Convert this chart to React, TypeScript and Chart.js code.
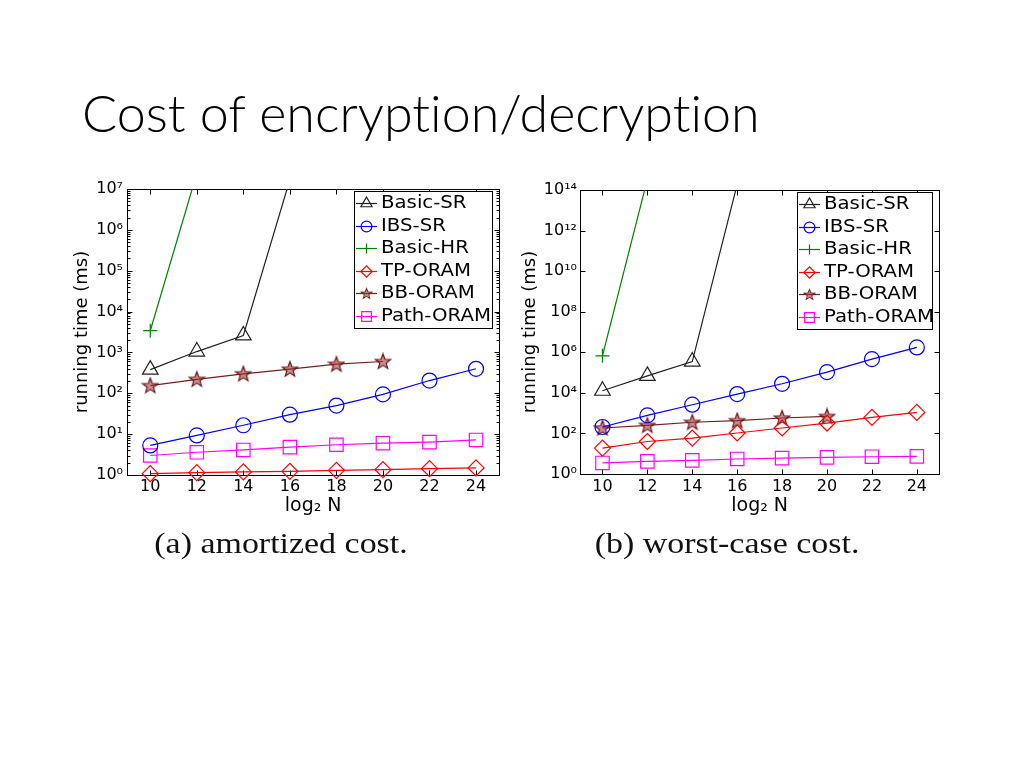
import React, { useEffect, useRef } from "react";
import { Chart, registerables } from "chart.js";
import { drawPoint } from "chart.js/helpers";

Chart.register(...registerables);

// ---------- data ----------
const seriesNames = ["Basic-SR", "IBS-SR", "Basic-HR", "TP-ORAM", "BB-ORAM", "Path-ORAM"];
const xSteps = [10, 12, 14, 16, 18, 20, 22, 24];
const xTicks = [10, 12, 14, 16, 18, 20, 22, 24];

// (a) amortized cost (ms)
const amortBasicSR = [380, 1050, 2600, 1.7e7];
const amortIBSSR = [5.3, 9.3, 16.5, 30, 50, 94, 205, 398];
const amortBasicHR = [3400, 2.4e7];
const amortTPORAM = [1.08, 1.14, 1.19, 1.23, 1.3, 1.35, 1.43, 1.49];
const amortBBORAM = [154, 220, 300, 390, 515, 600];
const amortPathORAM = [3.0, 3.6, 4.1, 4.8, 5.5, 6.0, 6.4, 7.2];

// (b) worst-case cost (ms)
const worstBasicSR = [1.27e4, 6.9e4, 3.5e5, 1.9e14];
const worstIBSSR = [208, 776, 2600, 8700, 28000, 1.05e5, 4.6e5, 1.74e6];
const worstBasicHR = [6.7e5, 3.4e14];
const worstTPORAM = [19, 40, 59, 105, 185, 325, 620, 1090];
const worstBBORAM = [185, 250, 355, 425, 575, 690];
const worstPathORAM = [3.5, 4.2, 4.7, 5.5, 6.1, 6.6, 7.1, 7.4];

const yTicksA = [1, 1e1, 1e2, 1e3, 1e4, 1e5, 1e6, 1e7];
const yTickLabelsA = ["10⁰", "10¹", "10²", "10³", "10⁴", "10⁵", "10⁶", "10⁷"];
const yTicksB = [1, 1e2, 1e4, 1e6, 1e8, 1e10, 1e12, 1e14];
const yTickLabelsB = ["10⁰", "10²", "10⁴", "10⁶", "10⁸", "10¹⁰", "10¹²", "10¹⁴"];

const pageTitle = "Cost of encryption/decryption";
const captionA = "(a) amortized cost.";
const captionB = "(b) worst-case cost.";
const xTitle = "log₂ N";
const yTitle = "running time (ms)";

// ---------- styles ----------
const seriesColors = ["#222222", "#0000ff", "#008000", "#ff0000", "#7a1c1c", "#ff00ff"];
const seriesPointStyles = ["triangle", "circle", "cross", "rectRot", "star5", "rect"];
const seriesRadii = [9, 7.5, 7, 8, 8, 9.5];

function makeStar(size: number, stroke: string, fill: string) {
  const c = document.createElement("canvas");
  c.width = size;
  c.height = size;
  const g = c.getContext("2d") as CanvasRenderingContext2D;
  const cx = size / 2, cy = size / 2 + 0.5, R = size / 2 - 1, r = R * 0.42;
  g.beginPath();
  for (let k = 0; k < 10; k++) {
    const rad = -Math.PI / 2 + (k * Math.PI) / 5;
    const rr = k % 2 === 0 ? R : r;
    const px = cx + rr * Math.cos(rad), py = cy + rr * Math.sin(rad);
    if (k === 0) g.moveTo(px, py); else g.lineTo(px, py);
  }
  g.closePath();
  g.fillStyle = fill;
  g.fill();
  g.strokeStyle = stroke;
  g.lineWidth = 1.2;
  g.stroke();
  return c;
}

const frameTicksPlugin = {
  id: "frameTicks",
  beforeDatasetsDraw(chart: any, _a: any, opts: any) {
    const { ctx, chartArea: a, scales } = chart;
    ctx.save();
    ctx.strokeStyle = "#000";
    ctx.lineWidth = 1;
    const L = Math.round(a.left) + 0.5, R = Math.round(a.right) + 0.5;
    const T = Math.round(a.top) + 0.5, B = Math.round(a.bottom) + 0.5;
    ctx.strokeRect(L, T, R - L, B - T);
    ctx.beginPath();
    (opts.yMajor || []).forEach((v: number) => {
      const y = Math.round(scales.y.getPixelForValue(v)) + 0.5;
      ctx.moveTo(L, y); ctx.lineTo(L + 5, y);
      ctx.moveTo(R, y); ctx.lineTo(R - 5, y);
    });
    (opts.yMinor || []).forEach((v: number) => {
      const y = Math.round(scales.y.getPixelForValue(v)) + 0.5;
      ctx.moveTo(L, y); ctx.lineTo(L + 3, y);
      ctx.moveTo(R, y); ctx.lineTo(R - 3, y);
    });
    (opts.xMajor || []).forEach((v: number) => {
      const x = Math.round(scales.x.getPixelForValue(v)) + 0.5;
      ctx.moveTo(x, B); ctx.lineTo(x, B - 5);
      ctx.moveTo(x, T); ctx.lineTo(x, T + 5);
    });
    ctx.stroke();
    ctx.restore();
  },
};

const boxLegendPlugin = {
  id: "boxLegend",
  afterDraw(chart: any, _a: any, opts: any) {
    const { ctx, chartArea: a } = chart;
    const ds = chart.data.datasets;
    const w = opts.width;
    const h = opts.rowH * ds.length + opts.padV * 2;
    const right = Math.round(a.right - opts.gapRight);
    const left = right - w;
    const top = Math.round(a.top + opts.gapTop);
    ctx.save();
    ctx.fillStyle = "#fff";
    ctx.fillRect(left, top, w, h);
    ctx.strokeStyle = "#000";
    ctx.lineWidth = 1;
    ctx.strokeRect(left + 0.5, top + 0.5, w, h);
    ds.forEach((d: any, i: number) => {
      const y = Math.round(top + opts.padV + opts.rowH * (i + 0.5)) + 0.5;
      ctx.strokeStyle = d.borderColor;
      ctx.lineWidth = 1.2;
      ctx.beginPath();
      ctx.moveTo(left + 2, y);
      ctx.lineTo(left + 23, y);
      ctx.stroke();
      const mx = left + 12.5;
      if (typeof d.pointStyle === "object") {
        const img = d.pointStyle;
        const s = opts.markerScale;
        ctx.drawImage(img, mx - (img.width * s) / 2, y - (img.height * s) / 2, img.width * s, img.height * s);
      } else {
        ctx.fillStyle = "rgba(0,0,0,0)";
        drawPoint(ctx, { pointStyle: d.pointStyle, radius: d.pointRadius * opts.markerScale, borderWidth: 1.2, rotation: 0 } as any, mx, y);
      }
      ctx.fillStyle = "#000";
      ctx.font = opts.font;
      ctx.textBaseline = "middle";
      ctx.textAlign = "left";
      ctx.save();
      ctx.translate(left + opts.textX, y);
      ctx.scale(opts.stretch, 1);
      ctx.fillText(d.label, 0, 0);
      ctx.restore();
    });
    ctx.restore();
  },
};

function LogChart({ cfg }: { cfg: any }) {
  const ref = useRef<HTMLCanvasElement>(null);
  useEffect(() => {
    const star = makeStar(18, "#6e1616", "rgba(150,50,50,0.55)");
    const datasets = cfg.series.map((ys: number[], i: number) => ({
      label: seriesNames[i],
      data: ys.map((y, j) => ({ x: xSteps[j], y })),
      borderColor: seriesColors[i],
      backgroundColor: "rgba(0,0,0,0)",
      borderWidth: 1.2,
      pointStyle: seriesPointStyles[i] === "star5" ? star : seriesPointStyles[i],
      pointRadius: seriesRadii[i],
      pointHoverRadius: seriesRadii[i],
      pointBorderColor: seriesColors[i],
      pointBackgroundColor: "rgba(0,0,0,0)",
      pointBorderWidth: 1.2,
      tension: 0,
      clip: { left: 15, right: 15, bottom: 15, top: 0 },
    }));
    const tickFont = { family: "'DejaVu Sans', sans-serif", size: 16 };
    const chart = new Chart(ref.current as HTMLCanvasElement, {
      type: "line",
      data: { datasets },
      options: {
        animation: false,
        responsive: false,
        devicePixelRatio: 1,
        events: [],
        layout: { padding: { top: cfg.padTop, right: cfg.padRight, bottom: cfg.padBottom, left: 0 } },
        plugins: {
          legend: { display: false },
          tooltip: { enabled: false },
          frameTicks: { yMajor: cfg.yTicks, yMinor: cfg.yMinor, xMajor: xTicks },
          boxLegend: {
            width: cfg.legendW, rowH: 22.5, padV: 1, gapRight: 7, gapTop: 2,
            font: "17px 'DejaVu Sans', sans-serif", stretch: 1.16, textX: 27, markerScale: 0.72,
          },
        } as any,
        scales: {
          x: {
            type: "linear",
            min: 9,
            max: 25,
            afterBuildTicks: (s: any) => { s.ticks = xTicks.map((v) => ({ value: v })); },
            afterFit: (s: any) => { s.height = cfg.xHeight; },
            grid: { display: false, drawTicks: false },
            border: { display: false },
            ticks: { font: tickFont, color: "#000", padding: cfg.xPad, autoSkip: false, maxRotation: 0, callback: (v: any) => String(v) },
            title: { display: true, text: xTitle, color: "#000", font: { family: "'DejaVu Sans', sans-serif", size: 19 }, padding: { top: 0, bottom: 1 } },
          },
          y: {
            type: "logarithmic",
            min: 1,
            max: cfg.yMax,
            afterBuildTicks: (s: any) => { s.ticks = cfg.yTicks.map((v: number) => ({ value: v })); },
            afterFit: (s: any) => { s.width = cfg.yWidth; },
            grid: { display: false, drawTicks: false },
            border: { display: false },
            ticks: {
              font: tickFont, color: "#000", padding: cfg.yPad, autoSkip: false,
              callback: (v: any) => {
                const k = cfg.yTicks.findIndex((t: number) => Math.abs(t - v) / t < 1e-6);
                return k >= 0 ? cfg.yLabels[k] : "";
              },
            },
            title: { display: true, text: yTitle, color: "#000", font: { family: "'DejaVu Sans', sans-serif", size: 18 }, padding: { top: cfg.yTitlePad, bottom: 0 } },
          },
        } as any,
      },
      plugins: [frameTicksPlugin as any, boxLegendPlugin as any],
    });
    return () => chart.destroy();
  }, []);
  return (
    <canvas
      ref={ref}
      width={cfg.w}
      height={cfg.h}
      style={{ position: "absolute", left: cfg.left, top: cfg.top, width: cfg.w, height: cfg.h }}
    />
  );
}

const minorA: number[] = [];
for (let k = 0; k < 7; k++) for (let m = 2; m <= 9; m++) minorA.push(m * Math.pow(10, k));

const cfgA = {
  left: 70, top: 170, w: 440, h: 360,
  padTop: 19, padRight: 10, padBottom: 12,
  xHeight: 43, xPad: 2, yWidth: 57, yPad: 4, yTitlePad: 2,
  yMax: 1e7, yTicks: yTicksA, yLabels: yTickLabelsA, yMinor: minorA,
  legendW: 138,
  series: [amortBasicSR, amortIBSSR, amortBasicHR, amortTPORAM, amortBBORAM, amortPathORAM],
};

const cfgB = {
  left: 520, top: 170, w: 430, h: 360,
  padTop: 20, padRight: 6, padBottom: 12,
  xHeight: 44, xPad: 3, yWidth: 60, yPad: 3, yTitlePad: 0,
  yMax: 1e14, yTicks: yTicksB, yLabels: yTickLabelsB, yMinor: [],
  legendW: 135,
  series: [worstBasicSR, worstIBSSR, worstBasicHR, worstTPORAM, worstBBORAM, worstPathORAM],
};

const captionStyle = (cx: number): React.CSSProperties => ({
  position: "absolute",
  left: cx - 200,
  top: 526,
  width: 400,
  textAlign: "center",
  fontFamily: "'Liberation Serif', 'Times New Roman', serif",
  fontSize: 29,
  lineHeight: "34px",
  color: "#111",
  transform: "scaleX(1.17)",
  transformOrigin: "center",
  whiteSpace: "pre",
});

export default function App() {
  return (
    <div style={{ position: "fixed", left: 0, top: 0, width: 1024, height: 768, background: "#fff", overflow: "hidden" }}>
      <div
        style={{
          position: "absolute",
          left: 82,
          top: 86,
          fontFamily: "Lato, 'Open Sans', sans-serif",
          fontWeight: 300,
          fontSize: 52,
          lineHeight: "52px",
          color: "#000",
          whiteSpace: "nowrap",
          fontVariantLigatures: "none",
          fontFeatureSettings: "'liga' 0, 'clig' 0",
        }}
      >
        {pageTitle}
      </div>
      <LogChart cfg={cfgA} />
      <LogChart cfg={cfgB} />
      <div style={captionStyle(281)}>{captionA}</div>
      <div style={captionStyle(727)}>{captionB}</div>
    </div>
  );
}
